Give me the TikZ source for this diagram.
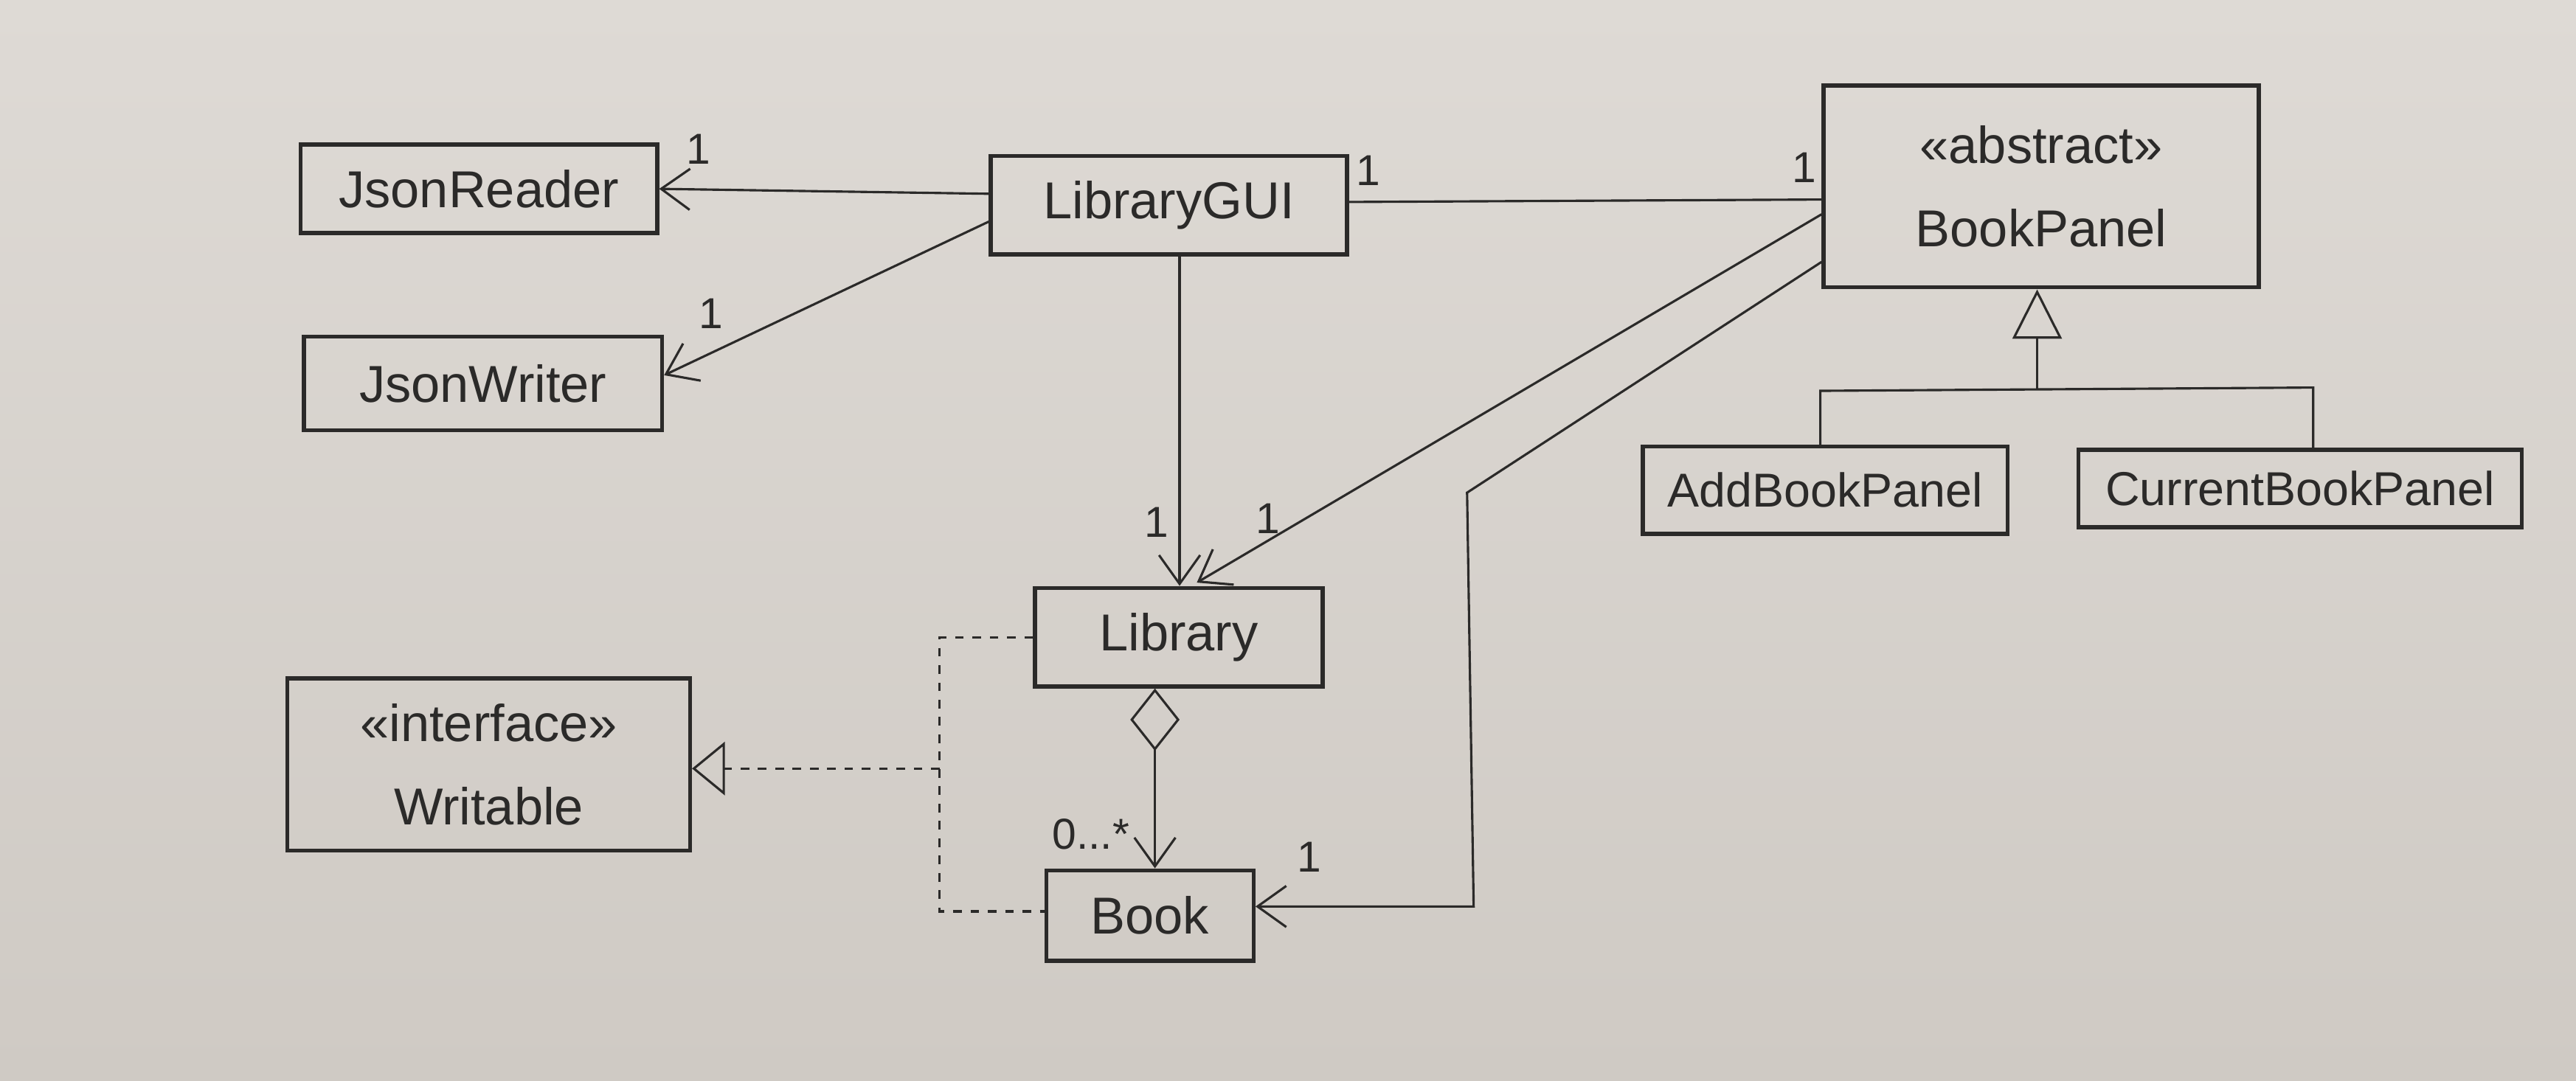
\documentclass[tikz,border=0pt]{standalone}
\usepackage{fontspec}
\setmainfont{Liberation Sans}
\usetikzlibrary{arrows.meta,calc}
\definecolor{paperT}{HTML}{DEDAD5}
\definecolor{paperB}{HTML}{CFCAC4}
\definecolor{ink}{HTML}{2B2A29}
\begin{document}
\begin{tikzpicture}[x=0.2mm,y=-0.2mm,
  cls/.style={draw=ink, line width=1.4pt, inner sep=0pt, text=ink, align=center,
              font=\fontsize{18}{29}\selectfont},
  smallcls/.style={cls, font=\fontsize{16.5}{20}\selectfont},
  conn/.style={draw=ink, line width=0.8pt},
  openarrow/.style={-{Straight Barb[length=3.5mm,width=5mm]}},
  realize/.style={-{Triangle[open,length=4mm,width=6.5mm]}},
  inherit/.style={-{Triangle[open,length=6mm,width=6mm]}},
  aggr/.style={{Diamond[open,length=7.6mm,width=6mm]}-{Straight Barb[length=3.5mm,width=5mm]}},
  mult/.style={text=ink, font=\fontsize{15}{18}\selectfont, inner sep=1pt}]
\shade[top color=paperT, bottom color=paperB] (0,0) rectangle (1568,658);
\useasboundingbox (0,0) rectangle (1568,658);

% classes
\node[cls, minimum width=43.4mm, minimum height=10.8mm] (reader) at (291.5,115) {JsonReader};
\node[cls, minimum width=43.6mm, minimum height=11.4mm] (writer) at (294,233.5) {JsonWriter};
\node[cls, minimum width=43.4mm, minimum height=12mm] (gui) at (711.5,125) {LibraryGUI};
\node[cls, minimum width=53mm, minimum height=24.6mm] (panel) at (1242.5,113.5) {<<abstract>>\\BookPanel};
\node[smallcls, minimum width=44.4mm, minimum height=10.6mm] (addp) at (1111,298.5) {AddBookPanel};
\node[smallcls, minimum width=54mm, minimum height=9.4mm] (curp) at (1400,297.5) {CurrentBookPanel};
\node[cls, minimum width=35mm, minimum height=12mm] (lib) at (717.5,388) {Library};
\node[cls, minimum width=49mm, minimum height=21mm] (writable) at (297.5,465.5) {<<interface>>\\Writable};
\node[cls, minimum width=25.2mm, minimum height=11mm] (book) at (700,557.5) {Book};

% helper coordinates
\coordinate (bend1) at (893,300);
\coordinate (bend2) at (897,552);
\coordinate (gen) at (1240,237);
\coordinate (hl) at (1108,238);
\coordinate (hr) at (1408,236);
\coordinate (dl) at (572,388);
\coordinate (db) at (572,555);
\coordinate (dw) at (572,468);
\coordinate (ag) at (703,0);
\coordinate (gv) at (718,0);

% associations
\draw[conn, openarrow] ($(gui.west)+(0,-7)$) -- (reader.east);
\draw[conn, openarrow] ($(gui.west)+(0,10)$) -- ($(writer.east)+(0,-5)$);
\draw[conn] ($(gui.east)+(0,-2)$) -- ($(panel.west)+(0,8)$);
\draw[conn, openarrow] (gui.south -| gv) -- (lib.north -| gv);
\draw[conn, openarrow] ($(panel.west)+(0,17)$) -- ($(lib.north)+(11,-2)$);
\draw[conn, openarrow] ($(panel.west)+(0,46)$) -- (bend1) -- (bend2) -- (book.east |- bend2);

% generalization
\draw[conn, inherit] (gen) -- (panel.south -| gen);
\draw[conn] (addp.north -| hl) -- (hl) -- (hr) -- (curp.north -| hr);

% aggregation
\draw[conn, aggr] (lib.south -| ag) -- (book.north -| ag);

% realization
\draw[conn, dashed] (lib.west) -- (dl) -- (db) -- (book.west |- db);
\draw[conn, dashed, realize] (dw) -- (writable.east |- dw);

% multiplicities
\node[mult] (m1) at (425,91) {1};
\node[mult] (m2) at (433,191) {1};
\node[mult] (m3) at (833,104) {1};
\node[mult] (m4) at (1098,102) {1};
\node[mult] (m5) at (704,318) {1};
\node[mult] (m6) at (772,316) {1};
\node[mult] (m7) at (797,522) {1};
\node[mult] (m8) at (664,508) {0...*};
\end{tikzpicture}
\end{document}
